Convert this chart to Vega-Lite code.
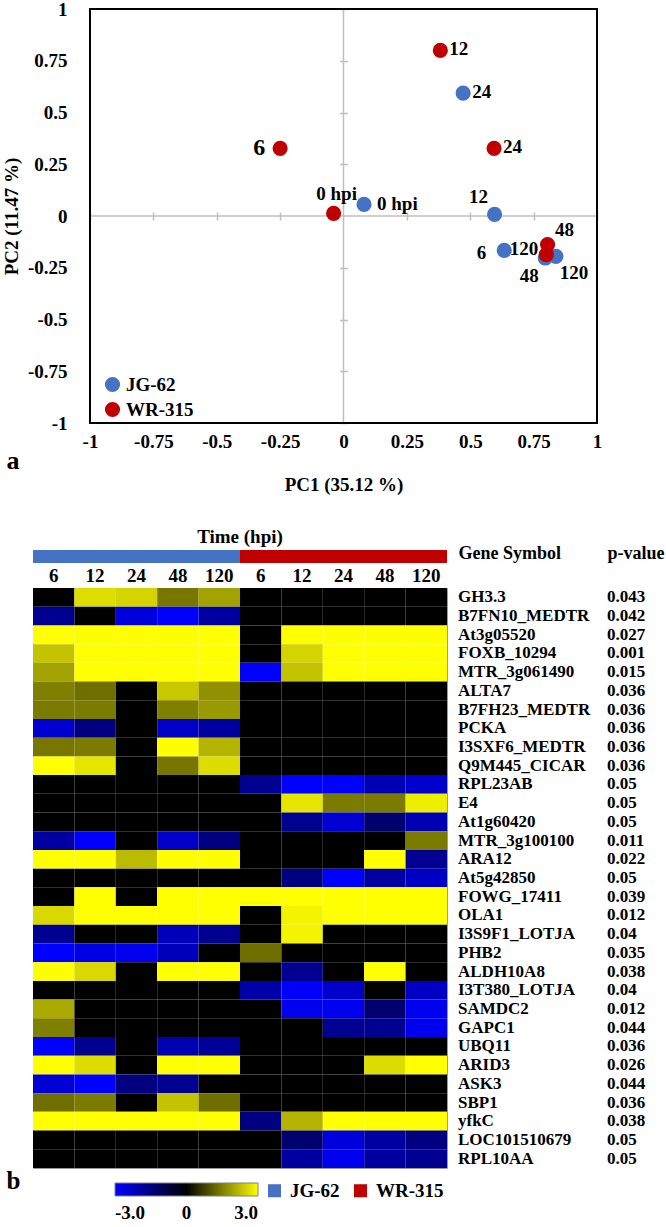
{
 "$schema": "https://vega.github.io/schema/vega-lite/v6.json",
 "background": "white",
 "padding": {"left": 2, "top": 0, "right": 0, "bottom": 0},
 "spacing": 34,
 "resolve": {"scale": {"x": "independent", "y": "independent", "color": "independent"}},
 "config": {
  "font": "Liberation Serif",
  "view": {"stroke": null},
  "axis": {"labelFontWeight": "bold", "titleFontWeight": "bold", "labelColor": "black", "titleColor": "black", "labelFontSize": 19, "titleFontSize": 19, "grid": false},
  "legend": {"labelFontWeight": "bold", "labelColor": "black", "labelFontSize": 19, "padding": 0},
  "title": {"fontWeight": "bold", "color": "black"}
 },
 "datasets": {
  "pca": [
   {"genotype": "JG-62", "time": 0, "label": "0 hpi", "PC1": 0.081, "PC2": 0.056},
   {"genotype": "JG-62", "time": 6, "label": "6", "PC1": 0.634, "PC2": -0.166},
   {"genotype": "JG-62", "time": 12, "label": "12", "PC1": 0.596, "PC2": 0.008},
   {"genotype": "JG-62", "time": 24, "label": "24", "PC1": 0.472, "PC2": 0.594},
   {"genotype": "JG-62", "time": 48, "label": "48", "PC1": 0.796, "PC2": -0.203},
   {"genotype": "JG-62", "time": 120, "label": "120", "PC1": 0.838, "PC2": -0.195},
   {"genotype": "WR-315", "time": 0, "label": "0 hpi", "PC1": -0.039, "PC2": 0.013},
   {"genotype": "WR-315", "time": 6, "label": "6", "PC1": -0.25, "PC2": 0.327},
   {"genotype": "WR-315", "time": 12, "label": "12", "PC1": 0.382, "PC2": 0.8},
   {"genotype": "WR-315", "time": 24, "label": "24", "PC1": 0.594, "PC2": 0.327},
   {"genotype": "WR-315", "time": 48, "label": "48", "PC1": 0.805, "PC2": -0.138},
   {"genotype": "WR-315", "time": 120, "label": "120", "PC1": 0.8, "PC2": -0.187}
  ],
  "genes": [
   {"Gene Symbol": "GH3.3", "p-value": "0.043", "JG-62 6": 0, "JG-62 12": 2.6, "JG-62 24": 2.5, "JG-62 48": 1.4, "JG-62 120": 1.9, "WR-315 6": 0, "WR-315 12": 0, "WR-315 24": 0, "WR-315 48": 0, "WR-315 120": 0},
   {"Gene Symbol": "B7FN10_MEDTR", "p-value": "0.042", "JG-62 6": -1.7, "JG-62 12": 0, "JG-62 24": -2.6, "JG-62 48": -3, "JG-62 120": -1.9, "WR-315 6": 0, "WR-315 12": 0, "WR-315 24": 0, "WR-315 48": 0, "WR-315 120": 0},
   {"Gene Symbol": "At3g05520", "p-value": "0.027", "JG-62 6": 3, "JG-62 12": 3, "JG-62 24": 3, "JG-62 48": 3, "JG-62 120": 3, "WR-315 6": 0, "WR-315 12": 3, "WR-315 24": 3, "WR-315 48": 3, "WR-315 120": 3},
   {"Gene Symbol": "FOXB_10294", "p-value": "0.001", "JG-62 6": 2.3, "JG-62 12": 3, "JG-62 24": 3, "JG-62 48": 3, "JG-62 120": 3, "WR-315 6": 0, "WR-315 12": 2.5, "WR-315 24": 3, "WR-315 48": 3, "WR-315 120": 3},
   {"Gene Symbol": "MTR_3g061490", "p-value": "0.015", "JG-62 6": 1.9, "JG-62 12": 3, "JG-62 24": 3, "JG-62 48": 3, "JG-62 120": 3, "WR-315 6": -3, "WR-315 12": 2.3, "WR-315 24": 3, "WR-315 48": 3, "WR-315 120": 3},
   {"Gene Symbol": "ALTA7", "p-value": "0.036", "JG-62 6": 1.5, "JG-62 12": 1.3, "JG-62 24": 0, "JG-62 48": 2.35, "JG-62 120": 1.7, "WR-315 6": 0, "WR-315 12": 0, "WR-315 24": 0, "WR-315 48": 0, "WR-315 120": 0},
   {"Gene Symbol": "B7FH23_MEDTR", "p-value": "0.036", "JG-62 6": 1.45, "JG-62 12": 1.45, "JG-62 24": 0, "JG-62 48": 1.5, "JG-62 120": 1.8, "WR-315 6": 0, "WR-315 12": 0, "WR-315 24": 0, "WR-315 48": 0, "WR-315 120": 0},
   {"Gene Symbol": "PCKA", "p-value": "0.036", "JG-62 6": -2.45, "JG-62 12": -1.5, "JG-62 24": 0, "JG-62 48": -2.35, "JG-62 120": -1.9, "WR-315 6": 0, "WR-315 12": 0, "WR-315 24": 0, "WR-315 48": 0, "WR-315 120": 0},
   {"Gene Symbol": "I3SXF6_MEDTR", "p-value": "0.036", "JG-62 6": 1.4, "JG-62 12": 1.45, "JG-62 24": 0, "JG-62 48": 3, "JG-62 120": 2.1, "WR-315 6": 0, "WR-315 12": 0, "WR-315 24": 0, "WR-315 48": 0, "WR-315 120": 0},
   {"Gene Symbol": "Q9M445_CICAR", "p-value": "0.036", "JG-62 6": 3, "JG-62 12": 2.7, "JG-62 24": 0, "JG-62 48": 1.4, "JG-62 120": 2.6, "WR-315 6": 0, "WR-315 12": 0, "WR-315 24": 0, "WR-315 48": 0, "WR-315 120": 0},
   {"Gene Symbol": "RPL23AB", "p-value": "0.05", "JG-62 6": 0, "JG-62 12": 0, "JG-62 24": 0, "JG-62 48": 0, "JG-62 120": 0, "WR-315 6": -1.7, "WR-315 12": -3, "WR-315 24": -3, "WR-315 48": -2.1, "WR-315 120": -2.4},
   {"Gene Symbol": "E4", "p-value": "0.05", "JG-62 6": 0, "JG-62 12": 0, "JG-62 24": 0, "JG-62 48": 0, "JG-62 120": 0, "WR-315 6": 0, "WR-315 12": 2.7, "WR-315 24": 1.45, "WR-315 48": 1.45, "WR-315 120": 2.8},
   {"Gene Symbol": "At1g60420", "p-value": "0.05", "JG-62 6": 0, "JG-62 12": 0, "JG-62 24": 0, "JG-62 48": 0, "JG-62 120": 0, "WR-315 6": 0, "WR-315 12": -1.7, "WR-315 24": -2.5, "WR-315 48": -1.3, "WR-315 120": -2.1},
   {"Gene Symbol": "MTR_3g100100", "p-value": "0.011", "JG-62 6": -1.9, "JG-62 12": -3, "JG-62 24": 0, "JG-62 48": -2.35, "JG-62 120": -1.5, "WR-315 6": 0, "WR-315 12": 0, "WR-315 24": 0, "WR-315 48": 0, "WR-315 120": 1.45},
   {"Gene Symbol": "ARA12", "p-value": "0.022", "JG-62 6": 3, "JG-62 12": 3, "JG-62 24": 2.2, "JG-62 48": 3, "JG-62 120": 3, "WR-315 6": 0, "WR-315 12": 0, "WR-315 24": 0, "WR-315 48": 3, "WR-315 120": -1.7},
   {"Gene Symbol": "At5g42850", "p-value": "0.05", "JG-62 6": 0, "JG-62 12": 0, "JG-62 24": 0, "JG-62 48": 0, "JG-62 120": 0, "WR-315 6": 0, "WR-315 12": -1.5, "WR-315 24": -3, "WR-315 48": -1.9, "WR-315 120": -2.3},
   {"Gene Symbol": "FOWG_17411", "p-value": "0.039", "JG-62 6": 0, "JG-62 12": 3, "JG-62 24": 0, "JG-62 48": 3, "JG-62 120": 3, "WR-315 6": 3, "WR-315 12": 3, "WR-315 24": 3, "WR-315 48": 3, "WR-315 120": 3},
   {"Gene Symbol": "OLA1", "p-value": "0.012", "JG-62 6": 2.55, "JG-62 12": 3, "JG-62 24": 3, "JG-62 48": 3, "JG-62 120": 3, "WR-315 6": 0, "WR-315 12": 2.87, "WR-315 24": 3, "WR-315 48": 3, "WR-315 120": 3},
   {"Gene Symbol": "I3S9F1_LOTJA", "p-value": "0.04", "JG-62 6": -1.7, "JG-62 12": 0, "JG-62 24": 0, "JG-62 48": -2.2, "JG-62 120": -1.7, "WR-315 6": 0, "WR-315 12": 2.87, "WR-315 24": 0, "WR-315 48": 0, "WR-315 120": 0},
   {"Gene Symbol": "PHB2", "p-value": "0.035", "JG-62 6": -3, "JG-62 12": -2.7, "JG-62 24": -2.8, "JG-62 48": -2.2, "JG-62 120": 0, "WR-315 6": 1.3, "WR-315 12": 0, "WR-315 24": 0, "WR-315 48": 0, "WR-315 120": 0},
   {"Gene Symbol": "ALDH10A8", "p-value": "0.038", "JG-62 6": 3, "JG-62 12": 2.55, "JG-62 24": 0, "JG-62 48": 3, "JG-62 120": 3, "WR-315 6": 0, "WR-315 12": -1.7, "WR-315 24": 0, "WR-315 48": 3, "WR-315 120": 0},
   {"Gene Symbol": "I3T380_LOTJA", "p-value": "0.04", "JG-62 6": 0, "JG-62 12": 0, "JG-62 24": 0, "JG-62 48": 0, "JG-62 120": 0, "WR-315 6": -2, "WR-315 12": -3, "WR-315 24": -2.35, "WR-315 48": 0, "WR-315 120": -2.3},
   {"Gene Symbol": "SAMDC2", "p-value": "0.012", "JG-62 6": 2.0, "JG-62 12": 0, "JG-62 24": 0, "JG-62 48": 0, "JG-62 120": 0, "WR-315 6": 0, "WR-315 12": -2.8, "WR-315 24": -2.8, "WR-315 48": -1.3, "WR-315 120": -2.8},
   {"Gene Symbol": "GAPC1", "p-value": "0.044", "JG-62 6": 1.5, "JG-62 12": 0, "JG-62 24": 0, "JG-62 48": 0, "JG-62 120": 0, "WR-315 6": 0, "WR-315 12": 0, "WR-315 24": -1.7, "WR-315 48": -1.7, "WR-315 120": -2.8},
   {"Gene Symbol": "UBQ11", "p-value": "0.036", "JG-62 6": -3, "JG-62 12": -1.7, "JG-62 24": 0, "JG-62 48": -2.1, "JG-62 120": -1.8, "WR-315 6": 0, "WR-315 12": 0, "WR-315 24": 0, "WR-315 48": 0, "WR-315 120": 0},
   {"Gene Symbol": "ARID3", "p-value": "0.026", "JG-62 6": 3, "JG-62 12": 2.6, "JG-62 24": 0, "JG-62 48": 3, "JG-62 120": 3, "WR-315 6": 0, "WR-315 12": 0, "WR-315 24": 0, "WR-315 48": 2.6, "WR-315 120": 3},
   {"Gene Symbol": "ASK3", "p-value": "0.044", "JG-62 6": -2.5, "JG-62 12": -3, "JG-62 24": -1.5, "JG-62 48": -1.7, "JG-62 120": 0, "WR-315 6": 0, "WR-315 12": 0, "WR-315 24": 0, "WR-315 48": 0, "WR-315 120": 0},
   {"Gene Symbol": "SBP1", "p-value": "0.036", "JG-62 6": 1.3, "JG-62 12": 1.45, "JG-62 24": 0, "JG-62 48": 2.3, "JG-62 120": 1.3, "WR-315 6": 0, "WR-315 12": 0, "WR-315 24": 0, "WR-315 48": 0, "WR-315 120": 0},
   {"Gene Symbol": "yfkC", "p-value": "0.038", "JG-62 6": 3, "JG-62 12": 3, "JG-62 24": 3, "JG-62 48": 3, "JG-62 120": 3, "WR-315 6": -1.5, "WR-315 12": 2.1, "WR-315 24": 3, "WR-315 48": 3, "WR-315 120": 3},
   {"Gene Symbol": "LOC101510679", "p-value": "0.05", "JG-62 6": 0, "JG-62 12": 0, "JG-62 24": 0, "JG-62 48": 0, "JG-62 120": 0, "WR-315 6": 0, "WR-315 12": -1.3, "WR-315 24": -2.6, "WR-315 48": -1.9, "WR-315 120": -1.5},
   {"Gene Symbol": "RPL10AA", "p-value": "0.05", "JG-62 6": 0, "JG-62 12": 0, "JG-62 24": 0, "JG-62 48": 0, "JG-62 120": 0, "WR-315 6": 0, "WR-315 12": -1.9, "WR-315 24": -2.8, "WR-315 48": -1.9, "WR-315 120": -1.7}
  ]
 },
 "vconcat": [
  {
   "width": 564,
   "height": 414,
   "view": {"stroke": null},
   "title": {"text": "a", "orient": "bottom", "anchor": "start", "frame": "bounds", "fontSize": 26, "dx": 4, "dy": -50},
   "resolve": {"scale": {"x": "independent", "y": "independent"}},
   "layer": [
    {
     "data": {"values": [{}]},
     "mark": {"type": "rule", "color": "#bfbfbf", "strokeWidth": 1.5},
     "encoding": {
      "x": {"datum": 0, "type": "quantitative", "scale": {"domain": [-1, 1], "range": [57, 564], "nice": false}, "axis": null},
      "y": {"datum": -1, "type": "quantitative", "scale": {"domain": [-1, 1], "nice": false},
            "axis": {"orient": "left", "offset": -314.5, "values": [-1, -0.75, -0.5, -0.25, 0.25, 0.5, 0.75, 1], "labels": false, "domain": false, "ticks": true, "tickSize": 8, "tickColor": "#bfbfbf", "tickWidth": 1.5, "title": null}},
      "y2": {"datum": 1}
     }
    },
    {
     "data": {"values": [{}]},
     "mark": {"type": "rule", "color": "#bfbfbf", "strokeWidth": 1.5},
     "encoding": {
      "y": {"datum": 0, "type": "quantitative", "scale": {"domain": [-1, 1], "nice": false}, "axis": null},
      "x": {"datum": -1, "type": "quantitative", "scale": {"domain": [-1, 1], "range": [57, 564], "nice": false},
            "axis": {"orient": "bottom", "offset": -211, "values": [-1, -0.75, -0.5, -0.25, 0.25, 0.5, 0.75, 1], "labels": false, "domain": false, "ticks": true, "tickSize": 8, "tickColor": "#bfbfbf", "tickWidth": 1.5, "title": null}},
      "x2": {"datum": 1}
     }
    },
    {
     "data": {"name": "pca"},
     "encoding": {
      "x": {"field": "PC1", "type": "quantitative", "scale": {"domain": [-1, 1], "range": [57, 564], "nice": false, "zero": false},
            "axis": {"orient": "bottom", "values": [-1, -0.75, -0.5, -0.25, 0, 0.25, 0.5, 0.75, 1], "labelExpr": "'' + datum.value", "ticks": false, "domain": false, "labelPadding": 9, "labelFlush": false, "labelOverlap": false, "title": "PC1 (35.12 %)", "titlePadding": 24}},
      "y": {"field": "PC2", "type": "quantitative", "scale": {"domain": [-1, 1], "nice": false, "zero": false},
            "axis": {"orient": "left", "offset": -57, "values": [-1, -0.75, -0.5, -0.25, 0, 0.25, 0.5, 0.75, 1], "labelExpr": "'' + datum.value", "ticks": false, "domain": false, "labelPadding": 23, "labelFlush": false, "labelOverlap": false, "title": "PC2 (11.47 %)", "titlePadding": 6}}
     },
     "layer": [
      {
       "mark": {"type": "circle", "size": 230, "opacity": 1},
       "encoding": {
        "color": {"field": "genotype", "type": "nominal", "scale": {"domain": ["JG-62", "WR-315"], "range": ["#4472C4", "#C00000"]},
                  "legend": {"orient": "none", "legendX": 70, "legendY": 366, "title": null, "symbolType": "circle", "symbolSize": 230, "symbolStrokeWidth": 0, "rowPadding": 5, "labelOffset": 4}}
       }
      },
      {
       "transform": [{"filter": "(datum.genotype == 'WR-315' && (datum.time == 12 || datum.time == 24)) || (datum.genotype == 'JG-62' && datum.time == 24)"}],
       "mark": {"type": "text", "align": "left", "baseline": "middle", "dx": 9, "dy": -1, "fontSize": 19, "fontWeight": "bold"},
       "encoding": {"text": {"field": "label"}}
      },
      {
       "transform": [{"filter": "datum.genotype == 'JG-62' && datum.time == 0"}],
       "mark": {"type": "text", "align": "left", "baseline": "middle", "dx": 13, "dy": 0, "fontSize": 19, "fontWeight": "bold"},
       "encoding": {"text": {"field": "label"}}
      },
      {
       "transform": [{"filter": "datum.genotype == 'WR-315' && datum.time == 6"}],
       "mark": {"type": "text", "align": "right", "baseline": "middle", "dx": -15, "dy": 0, "fontSize": 24, "fontWeight": "bold"},
       "encoding": {"text": {"field": "label"}}
      },
      {
       "transform": [{"filter": "datum.genotype == 'WR-315' && datum.time == 0"}],
       "mark": {"type": "text", "align": "center", "baseline": "middle", "dx": 3, "dy": -19, "fontSize": 19, "fontWeight": "bold"},
       "encoding": {"text": {"field": "label"}}
      },
      {
       "transform": [{"filter": "datum.genotype == 'JG-62' && datum.time == 12"}],
       "mark": {"type": "text", "align": "center", "baseline": "middle", "dx": -16, "dy": -17, "fontSize": 19, "fontWeight": "bold"},
       "encoding": {"text": {"field": "label"}}
      },
      {
       "transform": [{"filter": "datum.genotype == 'JG-62' && datum.time == 6"}],
       "mark": {"type": "text", "align": "right", "baseline": "middle", "dx": -18, "dy": 3, "fontSize": 19, "fontWeight": "bold"},
       "encoding": {"text": {"field": "label"}}
      },
      {
       "transform": [{"filter": "datum.genotype == 'WR-315' && datum.time == 120"}],
       "mark": {"type": "text", "align": "right", "baseline": "middle", "dx": -8, "dy": -6, "fontSize": 19, "fontWeight": "bold"},
       "encoding": {"text": {"field": "label"}}
      },
      {
       "transform": [{"filter": "datum.genotype == 'WR-315' && datum.time == 48"}],
       "mark": {"type": "text", "align": "center", "baseline": "middle", "dx": 17, "dy": -15, "fontSize": 19, "fontWeight": "bold"},
       "encoding": {"text": {"field": "label"}}
      },
      {
       "transform": [{"filter": "datum.genotype == 'JG-62' && datum.time == 48"}],
       "mark": {"type": "text", "align": "center", "baseline": "middle", "dx": -16, "dy": 18, "fontSize": 19, "fontWeight": "bold"},
       "encoding": {"text": {"field": "label"}}
      },
      {
       "transform": [{"filter": "datum.genotype == 'JG-62' && datum.time == 120"}],
       "mark": {"type": "text", "align": "center", "baseline": "middle", "dx": 18, "dy": 17, "fontSize": 19, "fontWeight": "bold"},
       "encoding": {"text": {"field": "label"}}
      }
     ]
    },
    {
     "data": {"values": [{}]},
     "mark": {"type": "rule", "color": "black", "strokeWidth": 2},
     "encoding": {
      "x": {"datum": -1, "type": "quantitative", "scale": {"domain": [-1, 1], "range": [57, 564], "nice": false}, "axis": null}
     }
    },
    {
     "data": {"values": [{}]},
     "mark": {"type": "rule", "color": "black", "strokeWidth": 2},
     "encoding": {
      "x": {"datum": 1, "type": "quantitative", "scale": {"domain": [-1, 1], "range": [57, 564], "nice": false}, "axis": null}
     }
    },
    {
     "data": {"values": [{}]},
     "mark": {"type": "rule", "color": "black", "strokeWidth": 2, "strokeCap": "square"},
     "encoding": {
      "x": {"datum": -1, "type": "quantitative", "scale": {"domain": [-1, 1], "range": [57, 564], "nice": false}, "axis": null},
      "x2": {"datum": 1},
      "y": {"datum": 1, "type": "quantitative", "scale": {"domain": [-1, 1], "nice": false}, "axis": null}
     }
    },
    {
     "data": {"values": [{}]},
     "mark": {"type": "rule", "color": "black", "strokeWidth": 2, "strokeCap": "square"},
     "encoding": {
      "x": {"datum": -1, "type": "quantitative", "scale": {"domain": [-1, 1], "range": [57, 564], "nice": false}, "axis": null},
      "x2": {"datum": 1},
      "y": {"datum": -1, "type": "quantitative", "scale": {"domain": [-1, 1], "nice": false}, "axis": null}
     }
    }
   ]
  },
  {
   "spacing": 25,
   "bounds": "flush",
   "resolve": {"scale": {"x": "independent", "y": "independent", "color": "independent"}},
   "vconcat": [
    {
     "width": 414,
     "height": 13,
     "data": {"values": [{"genotype": "JG-62"}, {"genotype": "WR-315"}]},
     "title": {"text": "Time (hpi)", "fontSize": 19, "offset": 3},
     "mark": "rect",
     "encoding": {
      "x": {"field": "genotype", "type": "nominal", "scale": {"paddingInner": 0, "paddingOuter": 0}, "axis": null},
      "color": {"field": "genotype", "type": "nominal", "scale": {"domain": ["JG-62", "WR-315"], "range": ["#4472C4", "#C00000"]},
                "legend": {"orient": "none", "legendX": 232, "legendY": 631, "direction": "horizontal", "title": null, "symbolType": "square", "symbolSize": 169, "symbolStrokeWidth": 0, "labelOffset": 6, "columnPadding": 11}}
     }
    },
    {
     "spacing": 11,
     "bounds": "flush",
     "resolve": {"scale": {"x": "independent", "y": "independent", "color": "independent"}},
     "hconcat": [
      {
       "width": 414,
       "height": 580,
       "data": {"name": "genes"},
       "transform": [{"fold": ["JG-62 6", "JG-62 12", "JG-62 24", "JG-62 48", "JG-62 120", "WR-315 6", "WR-315 12", "WR-315 24", "WR-315 48", "WR-315 120"], "as": ["sample", "value"]}],
       "view": {"stroke": "#9a9a9a", "strokeWidth": 1},
       "mark": "rect",
       "encoding": {
        "x": {"field": "sample", "type": "nominal", "sort": null, "scale": {"paddingInner": 0, "paddingOuter": 0},
              "axis": {"orient": "top", "labelExpr": "split(datum.value, ' ')[1]", "labelAngle": 0, "ticks": false, "domain": false, "labelPadding": 3, "title": null}},
        "y": {"field": "Gene Symbol", "type": "nominal", "sort": null, "scale": {"paddingInner": 0, "paddingOuter": 0},
              "axis": {"orient": "left", "labels": false, "ticks": false, "domain": false, "title": "b", "titleAngle": 0, "titleAlign": "right", "titleBaseline": "middle", "titleX": -13, "titleY": 592, "titleFontSize": 25}},
        "color": {"field": "value", "type": "quantitative",
                  "scale": {"domain": [-3, 0, 3], "range": ["#0000ff", "#000000", "#ffff00"], "interpolate": "rgb"},
                  "legend": {"orient": "none", "legendX": 82, "legendY": 595, "direction": "horizontal", "title": null, "gradientLength": 143, "gradientThickness": 13, "gradientStrokeColor": "#808080", "gradientStrokeWidth": 1, "values": [-3, 0, 3], "labelExpr": "datum.value == 0 ? '0' : (datum.value < 0 ? '-' : '') + format(abs(datum.value), '.1f')", "labelOffset": 8}}
       }
      },
      {
       "width": 149,
       "height": 580,
       "data": {"name": "genes"},
       "transform": [{"fold": ["Gene Symbol", "p-value"], "as": ["column", "text"]}],
       "mark": {"type": "text", "align": "left", "baseline": "middle", "fontSize": 17, "fontWeight": "bold"},
       "encoding": {
        "x": {"field": "column", "type": "nominal", "sort": null, "scale": {"type": "point", "padding": 0},
              "axis": {"orient": "top", "labelAlign": "left", "labelAngle": 0, "ticks": false, "domain": false, "labelPadding": 26, "labelFontSize": 18, "title": null}},
        "y": {"field": "Gene Symbol", "type": "nominal", "sort": null, "scale": {"type": "point", "padding": 0.5}, "axis": null},
        "text": {"field": "text"}
       }
      }
     ]
    }
   ]
  }
 ]
}
